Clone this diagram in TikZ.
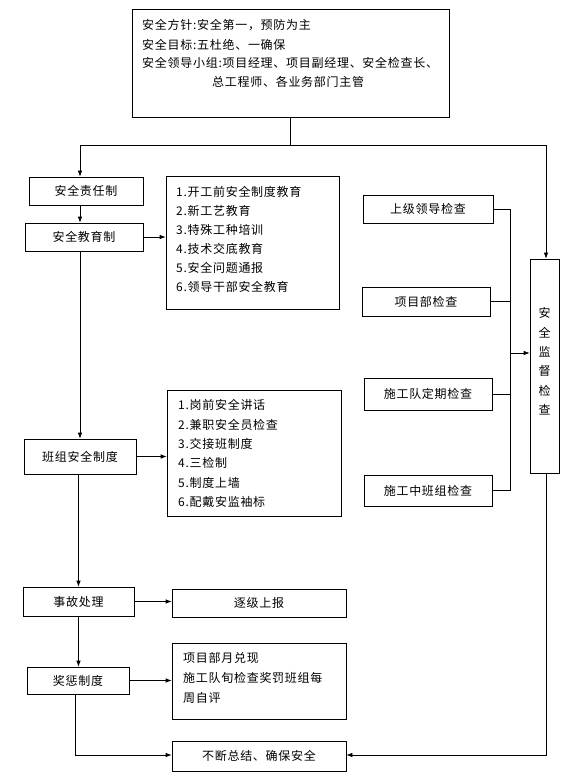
\documentclass[tikz,border=0pt]{standalone}
\usepackage{fontspec}
\setmainfont{Noto Sans CJK SC}[LetterSpace=6]
\usetikzlibrary{arrows.meta}
\begin{document}
\begin{tikzpicture}[x=1pt,y=-1pt,
  every node/.style={font=\fontsize{12}{19.4}\selectfont, inner sep=0pt},
  box/.style={draw, line width=0.7pt},
  ln/.style={line width=0.7pt},
  arr/.style={-{Latex[length=6pt,width=4.5pt]}},
  txt/.style={anchor=base west}]
\path[use as bounding box] (0,0) rectangle (576,782);
% top box
\node[box, minimum width=317pt, minimum height=108pt] (top) at (290.5,63) {};
\node[txt] (t1) at (142,29.6) {安全方针:安全第一，预防为主};
\node[txt] (t2) at (142,49.6) {安全目标:五杜绝、一确保};
\node[txt] (t3) at (142,67.6) {安全领导小组:项目经理、项目副经理、安全检查长、};
\node[txt] (t4) at (212,86.6) {总工程师、各业务部门主管};
% left column
\node[box, minimum width=114pt, minimum height=28pt] (resp) at (86,191) {安全责任制};
\node[box, minimum width=118pt, minimum height=28pt] (edu) at (84,237) {安全教育制};
\node[box, minimum width=112pt, minimum height=35pt] (team) at (80,456.5) {班组安全制度};
\node[box, minimum width=111pt, minimum height=29pt] (acc) at (78.5,601.5) {事故处理};
\node[box, minimum width=102pt, minimum height=27pt] (reward) at (78,680.5) {奖惩制度};
% lists
\node[box, minimum width=173pt, minimum height=133pt] (list1) at (252.5,242.5) {};
\node[txt] (a1) at (176,196.6) {1.开工前安全制度教育};
\node[txt] (a2) at (176,215.6) {2.新工艺教育};
\node[txt] (a3) at (176,234.6) {3.特殊工种培训};
\node[txt] (a4) at (176,253.6) {4.技术交底教育};
\node[txt] (a5) at (176,272.6) {5.安全问题通报};
\node[txt] (a6) at (176,291.6) {6.领导干部安全教育};
\node[box, minimum width=174pt, minimum height=126pt] (list2) at (254,453) {};
\node[txt] (b1) at (178,409.6) {1.岗前安全讲话};
\node[txt] (b2) at (178,429.0) {2.兼职安全员检查};
\node[txt] (b3) at (178,448.4) {3.交接班制度};
\node[txt] (b4) at (178,467.8) {4.三检制};
\node[txt] (b5) at (178,487.2) {5.制度上墙};
\node[txt] (b6) at (178,506.6) {6.配戴安监袖标};
\node[box, minimum width=174pt, minimum height=28pt] (report) at (259,603) {逐级上报};
\node[box, minimum width=174pt, minimum height=76pt] (list3) at (259,681) {};
\node[txt] (d1) at (183,662.6) {项目部月兑现};
\node[txt] (d2) at (183,682.6) {施工队旬检查奖罚班组每};
\node[txt] (d3) at (183,702.6) {周自评};
\node[box, minimum width=174pt, minimum height=30pt] (sum) at (259,756) {不断总结、确保安全};
% checks
\node[box, minimum width=130pt, minimum height=28pt] (c1) at (428,209) {上级领导检查};
\node[box, minimum width=128pt, minimum height=29pt] (c2) at (426,301.5) {项目部检查};
\node[box, minimum width=128pt, minimum height=32pt] (c3) at (428,394) {施工队定期检查};
\node[box, minimum width=128pt, minimum height=31pt] (c4) at (428,490.5) {施工中班组检查};
\node[box, minimum width=29pt, minimum height=214pt] (sup) at (544.5,366) {};
\node[align=center] (suptext) at (544.5,361.5) {安\\全\\监\\督\\检\\查};
% connectors
\coordinate (bl) at (80,145);
\coordinate (br) at (546,145);
\draw[ln] (top.south) -- (top.south |- bl);
\draw[ln] (bl) -- (br);
\draw[ln,arr] (bl) -- (bl |- resp.north);
\draw[ln,arr] (br) -- (br |- sup.north);
\draw[ln,arr] (resp.south -| bl) -- (edu.north -| bl);
\draw[ln,arr] (edu.south -| bl) -- (team.north -| bl);
\draw[ln,arr] (edu.east) -- (edu.east -| list1.west);
\draw[ln,arr] (team.east) -- (team.east -| list2.west);
\draw[ln,arr] (team.south -| acc.north) -- (acc.north);
\draw[ln,arr] (acc.south) -- (acc.south |- reward.north);
\draw[ln,arr] (acc.east) -- (acc.east -| report.west);
\draw[ln,arr] (reward.east) -- (reward.east -| list3.west);
\coordinate (sl) at (75,755);
\draw[ln,arr] (reward.south -| sl) -- (sl) -- (sl -| sum.west);
\coordinate (sr) at (546,755);
\draw[ln,arr] (sup.south -| sr) -- (sr) -- (sr -| sum.east);
\coordinate (bus) at (510,353);
\draw[ln] (c1.east) -- (c1.east -| bus) -- (c4.east -| bus) -- (c4.east);
\draw[ln] (c2.east) -- (c2.east -| bus);
\draw[ln] (c3.east) -- (c3.east -| bus);
\draw[ln,arr] (bus) -- (bus -| sup.west);
\end{tikzpicture}
\end{document}
